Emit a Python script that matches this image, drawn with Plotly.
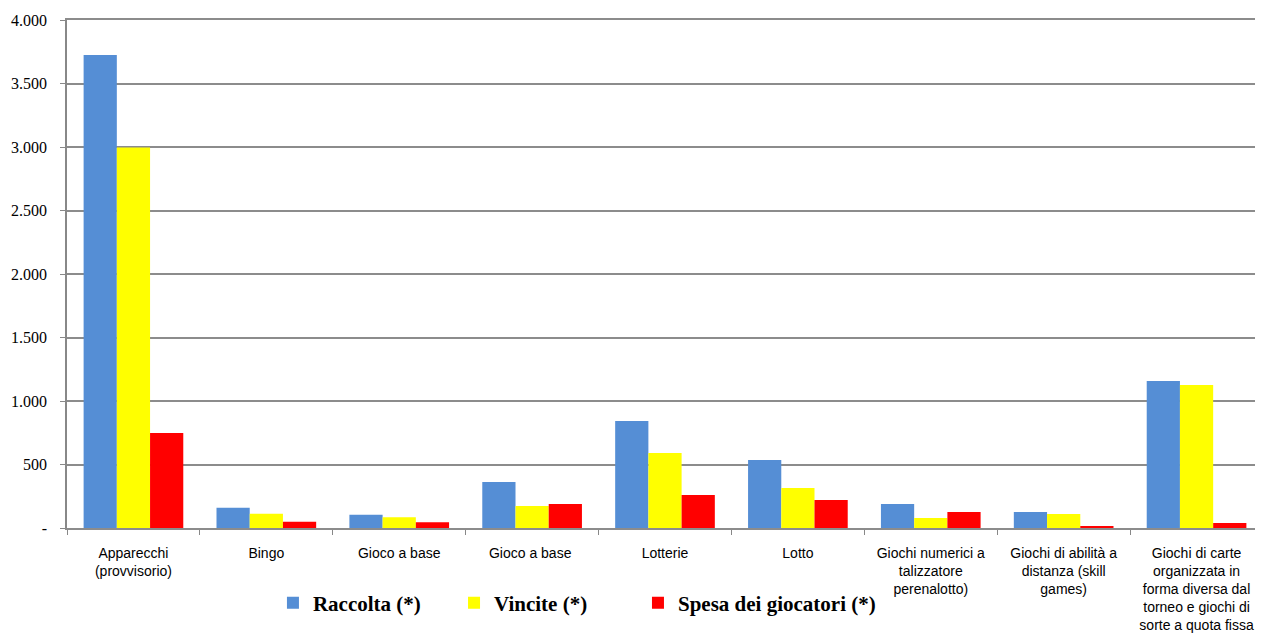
import plotly.graph_objects as go

categories = [
    "Apparecchi<br>(provvisorio)",
    "Bingo",
    "Gioco a base",
    "Gioco a base ",
    "Lotterie",
    "Lotto",
    "Giochi numerici a<br>talizzatore<br>perenalotto)",
    "Giochi di abilità a<br>distanza (skill<br>games)",
    "Giochi di carte<br>organizzata in<br>forma diversa dal<br>torneo e giochi di<br>sorte a quota fissa",
]
raccolta = [3724, 160, 105, 362, 843, 535, 189, 126, 1157]
vincite = [2996, 113, 85, 173, 590, 315, 79, 110, 1126]
spesa = [748, 50, 45, 189, 260, 220, 126, 16, 39]

series_names = ["Raccolta (*)", "Vincite (*)", "Spesa dei giocatori (*)"]
series_colors = ["#558ED5", "#FFFF00", "#FF0000"]
legend_ids = ["legend", "legend2", "legend3"]
legend_x = [0.1722, 0.3236, 0.4774]

ytick_vals = [0, 500, 1000, 1500, 2000, 2500, 3000, 3500, 4000]
ytick_text = ["-", "500", "1.000", "1.500", "2.000", "2.500", "3.000", "3.500", "4.000"]

fig = go.Figure()
for name, vals, col, lg in zip(series_names, [raccolta, vincite, spesa], series_colors, legend_ids):
    fig.add_trace(go.Bar(x=categories, y=vals, name=name, legend=lg,
                         marker=dict(color=col, line=dict(width=0))))

legend_font = dict(family="Liberation Serif, Times New Roman, serif", size=21, color="black", weight="bold")
legend_layout = {}
for lg, lx in zip(legend_ids, legend_x):
    legend_layout[lg] = dict(
        orientation="h", x=lx, xanchor="left", y=-0.148, yanchor="middle",
        font=legend_font, itemclick=False, itemdoubleclick=False,
        bgcolor="rgba(0,0,0,0)", borderwidth=0,
    )

# the page body adds an 8px offset, so the figure is sized to end at the window edge
fig.update_layout(
    width=1255, height=632,
    margin=dict(l=59, r=0, t=12, b=112, autoexpand=False),
    paper_bgcolor="white", plot_bgcolor="white",
    barmode="group", bargap=0.25, bargroupgap=0,
    showlegend=True,
    xaxis=dict(
        type="category", tickson="boundaries", ticks="outside", ticklen=5, tickcolor="#888888",
        showline=True, mirror=True, linecolor="#8c8c8c", linewidth=1.5, showgrid=False,
        tickfont=dict(family="Liberation Sans, Arial, sans-serif", size=14, color="black"),
        tickangle=0, ticklabelstandoff=11, automargin=False,
    ),
    yaxis=dict(
        range=[0, 4000], tickvals=ytick_vals, ticktext=ytick_text,
        ticks="outside", ticklen=5, tickcolor="#888888",
        showline=True, linecolor="#888888", linewidth=1.5,
        showgrid=True, gridcolor="#8c8c8c", gridwidth=1.5, zeroline=False,
        tickfont=dict(family="Liberation Serif, Times New Roman, serif", size=16, color="black"),
        ticklabelstandoff=10, automargin=False,
    ),
    **legend_layout,
)

fig.write_html("out.html")
